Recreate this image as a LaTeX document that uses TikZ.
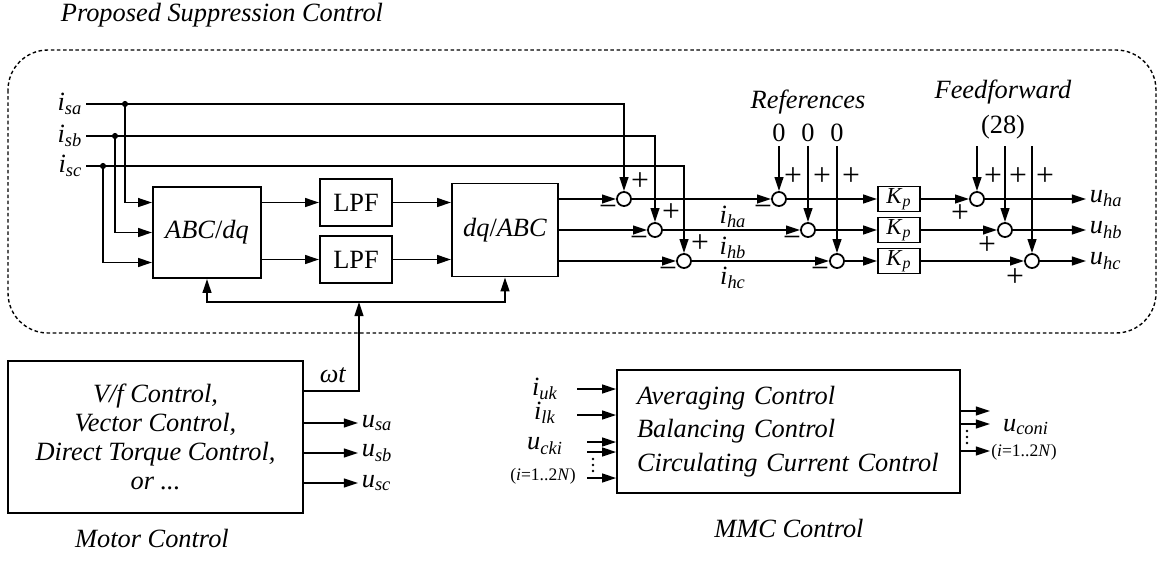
\documentclass[tikz,border=0pt]{standalone}
\usepackage{fontspec}
\setmainfont{Liberation Serif}
\usetikzlibrary{arrows.meta,calc}
\newcommand{\vsig}[2]{\textit{#1}\textsubscript{\textit{#2}}}
\tikzset{
  blk/.style={draw,line width=1pt,inner sep=0pt},
  sumj/.style={circle,draw,line width=1pt,fill=white,inner sep=0pt,minimum size=8pt},
  sig/.style={line width=1pt,-{Triangle[length=8pt,width=5pt]}},
  lbl/.style={inner sep=2pt},
  sgn/.style={inner sep=0pt,font=\fontsize{18}{18}\selectfont},
  dot/.style={circle,fill,inner sep=0pt,minimum size=3.5pt},
  kpbox/.style={blk,minimum width=0.84cm,minimum height=0.5cm,font=\fontsize{13}{15}\selectfont},
}
\begin{document}
\begin{tikzpicture}[x=0.02cm,y=-0.02cm,font=\fontsize{15}{17}\selectfont]
\useasboundingbox (0,0) rectangle (1160,561);
\node[lbl] (title) at (222,15) {\textit{Proposed Suppression Control}};
\draw[line width=0.8pt,dash pattern=on 2pt off 1.5pt,rounded corners=0.8cm] (8,50) rectangle (1156,333);

\node[lbl,anchor=east] (isa) at (86,104) {\vsig{i}{sa}};
\node[lbl,anchor=east] (isb) at (86,136) {\vsig{i}{sb}};
\node[lbl,anchor=east] (isc) at (86,166) {\vsig{i}{sc}};
\node[dot] (ja) at (125,104) {};
\node[dot] (jb) at (115,136) {};
\node[dot] (jc) at (103,166) {};

\node[blk,minimum width=2.16cm,minimum height=1.82cm] (abc) at (207,232.5) {\textit{ABC}/\textit{dq}};
\node[blk,minimum width=1.44cm,minimum height=0.94cm] (lpf1) at (356,202.5) {LPF};
\node[blk,minimum width=1.44cm,minimum height=0.94cm] (lpf2) at (356,259.5) {LPF};
\node[blk,minimum width=2.12cm,minimum height=1.86cm] (dqabc) at (505,230) {\textit{dq}/\textit{ABC}};

\node[sumj] (s1a) at (624,199) {};
\node[sumj] (s1b) at (655,230) {};
\node[sumj] (s1c) at (684,261) {};
\node[sumj] (s2a) at (779,199) {};
\node[sumj] (s2b) at (808,230) {};
\node[sumj] (s2c) at (837,261) {};
\node[kpbox] (kpa) at (899,199) {\vsig{K}{p}};
\node[kpbox] (kpb) at (899,230) {\vsig{K}{p}};
\node[kpbox] (kpc) at (899,261) {\vsig{K}{p}};
\node[sumj] (s3a) at (977,199) {};
\node[sumj] (s3b) at (1005,230) {};
\node[sumj] (s3c) at (1032,261) {};

\draw[sig] (isa.east) -| (s1a);
\draw[sig] (isb.east) -| (s1b);
\draw[sig] (isc.east) -| (s1c);
\draw[sig] (ja) |- ([yshift=0.6cm]abc.west);
\draw[sig] (jb) |- (abc.west);
\draw[sig] (jc) |- ([yshift=-0.6cm]abc.west);
\draw[sig] (abc.east |- lpf1) -- (lpf1);
\draw[sig] (abc.east |- lpf2) -- (lpf2);
\draw[sig] (lpf1) -- (dqabc.west |- lpf1);
\draw[sig] (lpf2) -- (dqabc.west |- lpf2);
\draw[sig] (dqabc.east |- s1a) -- (s1a);
\draw[sig] (dqabc.east |- s1b) -- (s1b);
\draw[sig] (dqabc.east |- s1c) -- (s1c);
\draw[sig] (s1a) -- (s2a);
\draw[sig] (s1b) -- (s2b);
\draw[sig] (s1c) -- (s2c);
\draw[sig] (s2a) -- (kpa);
\draw[sig] (s2b) -- (kpb);
\draw[sig] (s2c) -- (kpc);
\draw[sig] (kpa) -- (s3a);
\draw[sig] (kpb) -- (s3b);
\draw[sig] (kpc) -- (s3c);

\node[lbl] (iha) at (733,217) {\vsig{i}{ha}};
\node[lbl] (ihb) at (733,248) {\vsig{i}{hb}};
\node[lbl] (ihc) at (733,278) {\vsig{i}{hc}};

\node[lbl] (refs) at (808,102) {\textit{References}};
\node[lbl] (r1) at (779,133) {0};
\node[lbl] (r2) at (808,133) {0};
\node[lbl] (r3) at (837,133) {0};
\draw[sig] (r1) -- (s2a);
\draw[sig] (r2) -- (s2b);
\draw[sig] (r3) -- (s2c);

\node[lbl] (ffw) at (1003,92) {\textit{Feedforward}};
\node[lbl] (eq) at (1003,127) {(28)};
\coordinate (f1) at (977,146);
\coordinate (f2) at (1005,146);
\coordinate (f3) at (1032,146);
\draw[sig] (f1) -- (s3a);
\draw[sig] (f2) -- (s3b);
\draw[sig] (f3) -- (s3c);

\node[lbl,anchor=west] (uha) at (1086,199) {\vsig{u}{ha}};
\node[lbl,anchor=west] (uhb) at (1086,230) {\vsig{u}{hb}};
\node[lbl,anchor=west] (uhc) at (1086,261) {\vsig{u}{hc}};
\draw[sig] (s3a) -- (uha);
\draw[sig] (s3b) -- (uhb);
\draw[sig] (s3c) -- (uhc);

\node[sgn] (p1a) at (640,182) {+};
\node[sgn] (p1b) at (671,213) {+};
\node[sgn] (p1c) at (700,244) {+};
\node[sgn] (m1a) at (608,211) {−};
\node[sgn] (m1b) at (639,242) {−};
\node[sgn] (m1c) at (668,273) {−};
\node[sgn] (p2a) at (793,177) {+};
\node[sgn] (p2b) at (822,177) {+};
\node[sgn] (p2c) at (851,177) {+};
\node[sgn] (m2a) at (763,211) {−};
\node[sgn] (m2b) at (792,242) {−};
\node[sgn] (m2c) at (820,273) {−};
\node[sgn] (p3a) at (993,177) {+};
\node[sgn] (p3b) at (1018,177) {+};
\node[sgn] (p3c) at (1045,177) {+};
\node[sgn] (q3a) at (960,214) {+};
\node[sgn] (q3b) at (987,246) {+};
\node[sgn] (q3c) at (1015,278) {+};

\node[blk,minimum width=5.9cm,minimum height=3.04cm,align=center,font=\fontsize{15}{16.5}\selectfont\itshape] (mc) at (155.5,437)
  {V/f Control,\\Vector Control,\\Direct Torque Control,\\or ...};
\node[lbl] (mcl) at (152,538) {\textit{Motor Control}};
\coordinate (wt) at (359,302);
\node[lbl] (wtl) at (333,375) {\textit{ωt}};
\draw[sig] ([yshift=-0.62cm]mc.north east) -| (wt);
\draw[sig] (wt) -| (abc.south);
\draw[sig] (wt) -| (dqabc.south);
\node[lbl,anchor=west] (usa) at (358,423) {\vsig{u}{sa}};
\node[lbl,anchor=west] (usb) at (358,453) {\vsig{u}{sb}};
\node[lbl,anchor=west] (usc) at (358,483) {\vsig{u}{sc}};
\draw[sig] (mc.east |- usa) -- (usa);
\draw[sig] (mc.east |- usb) -- (usb);
\draw[sig] (mc.east |- usc) -- (usc);

\node[blk,text width=6.06cm,inner xsep=0.4cm,minimum height=2.46cm,align=left,font=\fontsize{15}{19}\selectfont\itshape] (mmc) at (788.5,431.5)
  {Averaging Control\\Balancing Control\\Circulating Current Control};
\node[lbl] (mmcl) at (789,528) {\textit{MMC Control}};
\node[lbl] (iuk) at (545,389) {\vsig{i}{uk}};
\node[lbl] (ilk) at (545,413) {\vsig{i}{lk}};
\node[lbl] (ucki) at (545,446) {\vsig{u}{cki}};
\node[lbl,font=\fontsize{10}{12}\selectfont] (irng) at (543,476) {(\textit{i}=1..2\textit{N})};
\coordinate (a1) at (577,389);
\coordinate (a2) at (577,415);
\coordinate (a3) at (587,442);
\coordinate (a4) at (587,452);
\coordinate (a5) at (587,478);
\draw[sig] (a1) -- (a1 -| mmc.west);
\draw[sig] (a2) -- (a2 -| mmc.west);
\draw[sig] (a3) -- (a3 -| mmc.west);
\draw[sig] (a4) -- (a4 -| mmc.west);
\draw[sig] (a5) -- (a5 -| mmc.west);
\fill (593,459) circle (0.8pt) (593,465) circle (0.8pt) (593,471) circle (0.8pt);
\coordinate (b1) at (990,411);
\coordinate (b2) at (990,424);
\coordinate (b3) at (990,451);
\draw[sig] (mmc.east |- b1) -- (b1);
\draw[sig] (mmc.east |- b2) -- (b2);
\draw[sig] (mmc.east |- b3) -- (b3);
\fill (967,431) circle (0.8pt) (967,437) circle (0.8pt) (967,443) circle (0.8pt);
\node[lbl] (ucon) at (1026,427) {\vsig{u}{coni}};
\node[lbl,font=\fontsize{10}{12}\selectfont] (orng) at (1024,452) {(\textit{i}=1..2\textit{N})};
\end{tikzpicture}
\end{document}
